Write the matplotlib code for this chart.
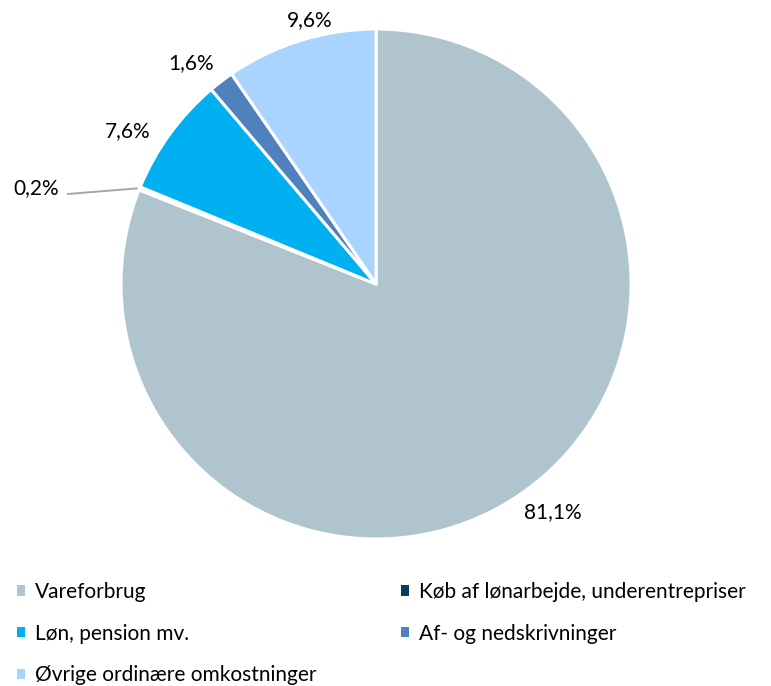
import numpy as np
import matplotlib.pyplot as plt
from matplotlib.patches import Patch

plt.rcParams['font.family'] = ['Lato', 'DejaVu Sans']

categories = ['Vareforbrug', 'Køb af lønarbejde, underentrepriser',
              'Løn, pension mv.', 'Af- og nedskrivninger',
              'Øvrige ordinære omkostninger']
shares = [81.1, 0.2, 7.6, 1.6, 9.6]
colors = ['#AFC4CD', '#0B3D58', '#00B0F0', '#4F81BD', '#A9D4FF']

FS = 15


def fmt(v):
    return ('%.1f' % v).replace('.', ',') + '%'


fig = plt.figure(figsize=(7.71, 6.86), dpi=100)
ax = fig.add_axes([0.157, 0.2143, 0.6615, 0.7434])

wedges, _ = ax.pie(shares, colors=colors, startangle=90, counterclock=False,
                   radius=1.0, wedgeprops=dict(edgecolor='white', linewidth=2.2))

# label offsets (points) from the outer edge of each slice
nudge = {0: (24, -12.5), 2: (-30.5, 2), 3: (-22, 13), 4: (6.5, 15)}

for i, (w, v) in enumerate(zip(wedges, shares)):
    mid = np.deg2rad((w.theta1 + w.theta2) / 2.0)
    x0, y0 = np.cos(mid), np.sin(mid)
    if i == 1:
        # tiny slice gets a leader line
        ax.annotate(fmt(v), xy=(x0 - 0.01, y0), xytext=(-56, 0.5),
                    textcoords='offset points', ha='right', va='center',
                    fontsize=FS,
                    arrowprops=dict(arrowstyle='-', color='#A6A6A6', lw=1.4,
                                    shrinkA=4, shrinkB=0, relpos=(1, 0.15),
                                    connectionstyle='arc3,rad=0'))
        continue
    ax.annotate(fmt(v), xy=(x0, y0), xytext=nudge[i], textcoords='offset points',
                ha='center', va='center', fontsize=FS)

ax.set_xlim(-1, 1)
ax.set_ylim(-1, 1)
ax.set_aspect('equal')
ax.axis('off')

handles = [Patch(facecolor=c, edgecolor='none') for c in colors]
leg_kw = dict(loc='upper left', frameon=False, fontsize=FS, handlelength=0.4,
              handleheight=0.4, handletextpad=0.45, labelspacing=1.05,
              borderpad=0, borderaxespad=0)
fig.legend([handles[i] for i in (0, 2, 4)],
           [categories[i] for i in (0, 2, 4)],
           bbox_to_anchor=(17 / 771, 0.152), **leg_kw)
fig.legend([handles[i] for i in (1, 3)], [categories[i] for i in (1, 3)],
           bbox_to_anchor=(401 / 771, 0.152), **leg_kw)

fig.savefig('out.png', dpi=100)
